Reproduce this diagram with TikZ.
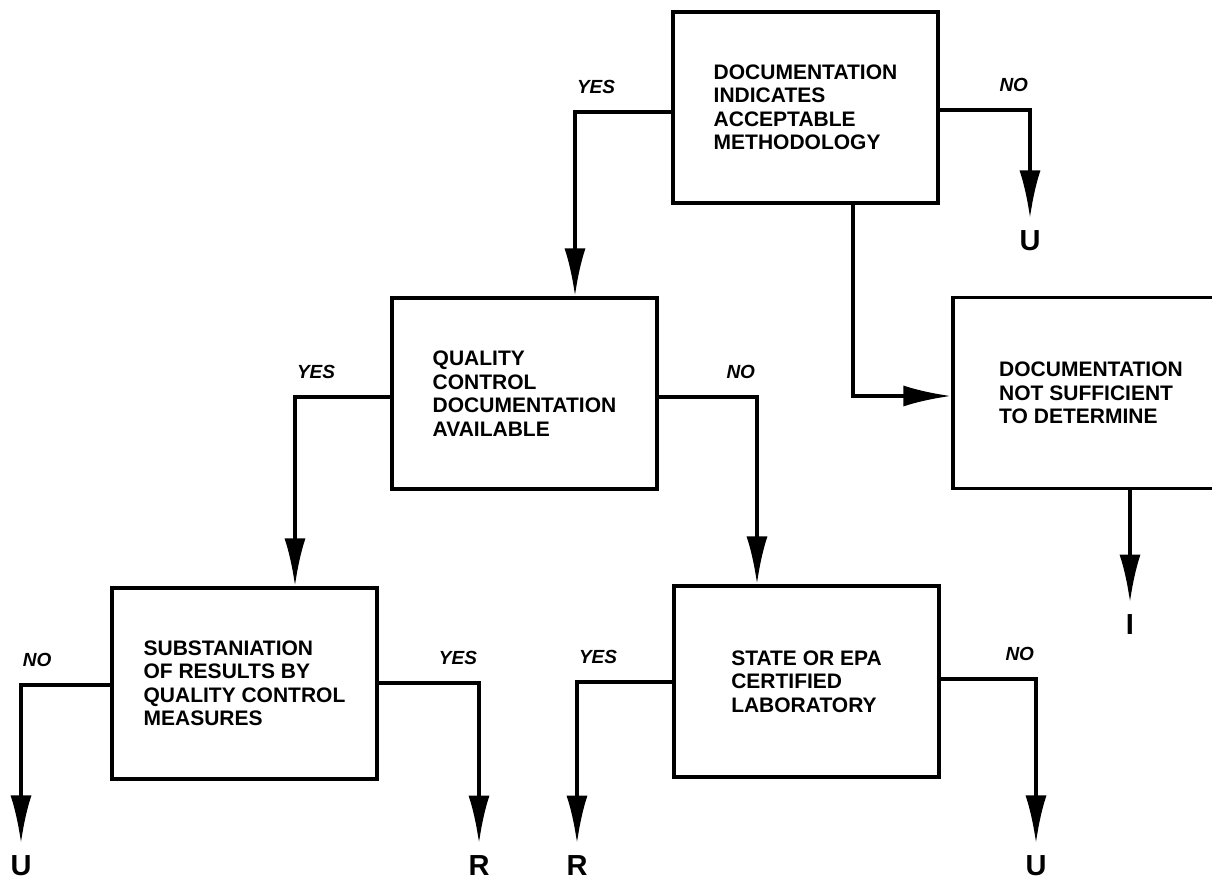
\documentclass[tikz,border=0pt]{standalone}
\usepackage{fontspec}
\setmainfont{Liberation Sans}
\usetikzlibrary{arrows.meta}

\begin{document}
\begin{tikzpicture}[x=0.5pt,y=-0.5pt,
  box/.style={draw,line width=1.6pt,minimum width=132.5pt,minimum height=95.5pt,inner sep=0pt,align=left,font=\bfseries\fontsize{10.5}{11.75}\selectfont},
  conn/.style={line width=2pt,-{Latex[length=24pt,width=10.5pt]}},
  toterm/.style={conn,shorten >=6pt},
  lbl/.style={inner sep=0pt,yshift=8pt,font=\bfseries\itshape\fontsize{9.5}{10}\selectfont},
  term/.style={inner sep=0pt,font=\bfseries\fontsize{14.5}{16}\selectfont}]
  \useasboundingbox (0,0) rectangle (1212,881);
  \node[box] (meth) at (805.5,107.5) {DOCUMENTATION\\INDICATES\\ACCEPTABLE\\METHODOLOGY};
  \node[box] (qc) at (524.5,393.5) {QUALITY\\CONTROL\\DOCUMENTATION\\AVAILABLE};
  \node[box,minimum width=138pt] (insuff) at (1091,393) {DOCUMENTATION\\NOT SUFFICIENT\\TO DETERMINE};
  \node[box] (subst) at (244.5,683.5) {SUBSTANIATION\\OF RESULTS BY\\QUALITY CONTROL\\MEASURES};
  \node[box] (cert) at (806.5,681.5) {STATE OR EPA\\CERTIFIED\\LABORATORY};
  \foreach \n/\t/\x/\y in {u1/U/1030/241,i1/I/1130/625,u2/U/21/866,r1/R/479/866,r2/R/577/866,u3/U/1036/866}
    \node[term] (\n) at (\x,\y) {\t};
  \coordinate (c1) at (575,112);
  \coordinate (c2) at (1030,110);
  \coordinate (c3) at (853,396);
  \coordinate (c4) at (295,397);
  \coordinate (c5) at (757,397);
  \coordinate (c6) at (21,685);
  \coordinate (c7) at (479,683);
  \coordinate (c8) at (577,682);
  \coordinate (c9) at (1036,679);
  \draw[conn] (meth.west |- c1) -- (c1) node[lbl,anchor=south west] (y1) {YES} -- (c1 |- qc.north);
  \draw[toterm] (meth.east |- c2) -- (c2) node[lbl,anchor=south east] (n1) {NO} -- (u1);
  \draw[conn] (c3 |- meth.south) -- (c3) -- (c3 -| insuff.west);
  \draw[toterm] (insuff.south -| i1) -- (i1);
  \draw[conn] (qc.west |- c4) -- (c4) node[lbl,anchor=south west] (y2) {YES} -- (c4 |- subst.north);
  \draw[conn] (qc.east |- c5) -- (c5) node[lbl,anchor=south east] (n2) {NO} -- (c5 |- cert.north);
  \draw[toterm] (subst.west |- c6) -- (c6) node[lbl,anchor=south west] (n3) {NO} -- (u2);
  \draw[toterm] (subst.east |- c7) -- (c7) node[lbl,anchor=south east] (y3) {YES} -- (r1);
  \draw[toterm] (cert.west |- c8) -- (c8) node[lbl,anchor=south west] (y4) {YES} -- (r2);
  \draw[toterm] (cert.east |- c9) -- (c9) node[lbl,anchor=south east] (n4) {NO} -- (u3);
\end{tikzpicture}
\end{document}
